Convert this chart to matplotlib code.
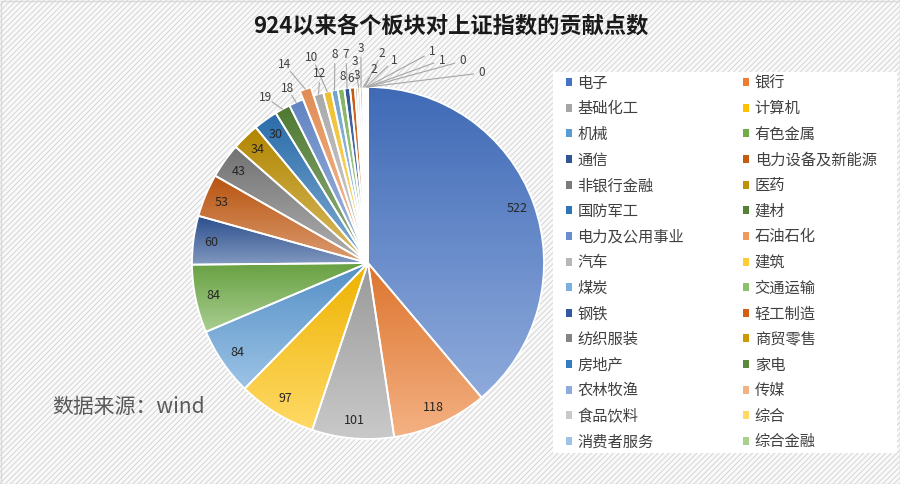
import numpy as np
import matplotlib
matplotlib.use("Agg")
import matplotlib.pyplot as plt
from matplotlib.patches import Rectangle, Patch
from matplotlib.colors import to_rgb

plt.rcParams['font.family'] = ['Noto Sans CJK SC', 'DejaVu Sans']
plt.rcParams['hatch.linewidth'] = 0.6
plt.rcParams['hatch.color'] = '#e6e6e6'

# 数据
sectors = ['电子', '银行', '基础化工', '计算机', '机械', '有色金属', '通信', '电力设备及新能源',
           '非银行金融', '医药', '国防军工', '建材', '电力及公用事业', '石油石化', '汽车', '建筑',
           '煤炭', '交通运输', '钢铁', '轻工制造', '纺织服装', '商贸零售', '房地产', '家电',
           '农林牧渔', '传媒', '食品饮料', '综合', '消费者服务', '综合金融']
points = [522, 118, 101, 97, 84, 84, 60, 53, 43, 34, 30, 19, 18, 14, 12, 10,
          8, 8, 7, 6, 3, 3, 3, 2, 2, 1, 1, 1, 0, 0]

colors = ['#4472C4', '#ED7D31', '#A5A5A5', '#FFC000', '#5B9BD5', '#70AD47',
          '#2F5597', '#C55A11', '#7B7B7B', '#BF9000', '#2E75B6', '#548235',
          '#698ED0', '#F1975A', '#B7B7B7', '#FFCD33', '#7CAFDD', '#8CC168',
          '#335AA1', '#D26012', '#848484', '#CC9A00', '#327DC2', '#5A8A39',
          '#8FAADC', '#F4B183', '#C9C9C9', '#FFD966', '#9DC3E6', '#A9D18E']

# 小扇区标签位置(以半径为单位)
outer_pos = {11: (-0.585, 0.943), 12: (-0.460, 0.994), 13: (-0.472, 1.125),
             14: (-0.273, 1.074), 15: (-0.318, 1.170), 16: (-0.188, 1.182),
             17: (-0.142, 1.057), 18: (-0.125, 1.182), 19: (-0.097, 1.051),
             20: (-0.0625, 1.068), 21: (-0.076, 1.145), 22: (-0.040, 1.218),
             23: (0.034, 1.097), 24: (0.080, 1.193), 25: (0.148, 1.153),
             26: (0.364, 1.199), 27: (0.420, 1.153), 28: (0.540, 1.148),
             29: (0.648, 1.080)}

W, H = 900, 484
fig = plt.figure(figsize=(9, 4.84), dpi=100)
fig.patch.set_facecolor('#f9f9f9')
fig.patches.append(Rectangle((0, 0), 1, 1, transform=fig.transFigure, facecolor='#f9f9f9',
                             edgecolor='#d0d0d0', hatch='//////', lw=0, zorder=-10))
fig.patches.append(Rectangle((0.5 / W, 0.5 / H), 1 - 1.0 / W, 1 - 1.0 / H, transform=fig.transFigure,
                             facecolor='none', edgecolor='#d9d9d9', lw=1, zorder=-9))
# 图例白色背景
fig.patches.append(Rectangle((553 / W, 1 - 453 / H), (897 - 553) / W, (453 - 72) / H,
                             transform=fig.transFigure, facecolor='white', edgecolor='none', zorder=-8))

cx, cy, R = 368, 263, 176
half = 300
ax = fig.add_axes([(cx - half) / W, (H - cy - half) / H, 2 * half / W, 2 * half / H])
L = half / R

explode = [0.05 if s == '石油石化' else 0 for s in sectors]
wedges, _ = ax.pie(points, colors=colors, startangle=90, counterclock=False, explode=explode,
                   wedgeprops=dict(edgecolor='white', linewidth=1.3))


def mix(c, t, f):
    return tuple((1 - f) * a + f * b for a, b in zip(c, t))


grad = np.linspace(0, 1, 80)[:, None]
for w, c in zip(wedges, colors):
    verts = w.get_path().vertices
    x0, y0 = verts.min(0)
    x1, y1 = verts.max(0)
    if x1 - x0 < 1e-4 or y1 - y0 < 1e-4:
        continue
    base = np.array(to_rgb(c))
    top = base * 0.93
    bot = np.array(mix(base, (1, 1, 1), 0.4))
    img = top[None, None, :] * (1 - grad[:, :, None]) + bot[None, None, :] * grad[:, :, None]
    im = ax.imshow(img, extent=(x0, x1, y0, y1), origin='upper', aspect='auto', zorder=0.5)
    im.set_clip_path(w)
    w.set_facecolor('none')
    w.set_zorder(1)

for i, (w, v) in enumerate(zip(wedges, points)):
    mid = np.deg2rad((w.theta1 + w.theta2) / 2)
    ox, oy = w.center
    if i not in outer_pos:
        ax.text(ox + 0.9 * np.cos(mid), oy + 0.9 * np.sin(mid), str(v), ha='center', va='center',
                fontsize=9, color='#262626', zorder=3)
    else:
        lx, ly = outer_pos[i]
        sx, sy = ox + np.cos(mid), oy + np.sin(mid)
        d = np.hypot(lx - sx, ly - sy)
        if d > 0.09:
            ex = lx - (lx - sx) / d * 0.05
            ey = ly - (ly - sy) / d * 0.05
            ax.plot([sx, ex], [sy, ey], color='#a6a6a6', lw=0.8, zorder=2, clip_on=False)
        ax.text(lx, ly, str(v), ha='center', va='center', fontsize=8.5, color='#404040',
                zorder=3, clip_on=False)

ax.set_xlim(-L, L)
ax.set_ylim(-L, L)
ax.set_aspect('equal')
ax.axis('off')

fig.text(451 / W, 1 - 26 / H, '924以来各个板块对上证指数的贡献点数', ha='center', va='center',
         fontsize=16, fontweight='bold', color='#1a1a1a')
fig.text(52 / W, 1 - 407 / H, '数据来源：wind', ha='left', va='center', fontsize=15, color='#595959')

# 图例(按行排列)
handles = [Patch(facecolor=c, edgecolor='none') for c in colors]
order = list(range(0, 30, 2)) + list(range(1, 30, 2))
leg = fig.legend([handles[k] for k in order], [sectors[k] for k in order], ncol=2,
                 loc='upper left', bbox_to_anchor=(561 / W, 1 - 70 / H), frameon=False,
                 fontsize=11, handlelength=0.42, handleheight=0.42, handletextpad=0.35,
                 labelspacing=0.565, columnspacing=3.85, borderpad=0.3, borderaxespad=0)
for t in leg.get_texts():
    t.set_color('#404040')

fig.savefig('out.png', dpi=100, facecolor=fig.get_facecolor())
